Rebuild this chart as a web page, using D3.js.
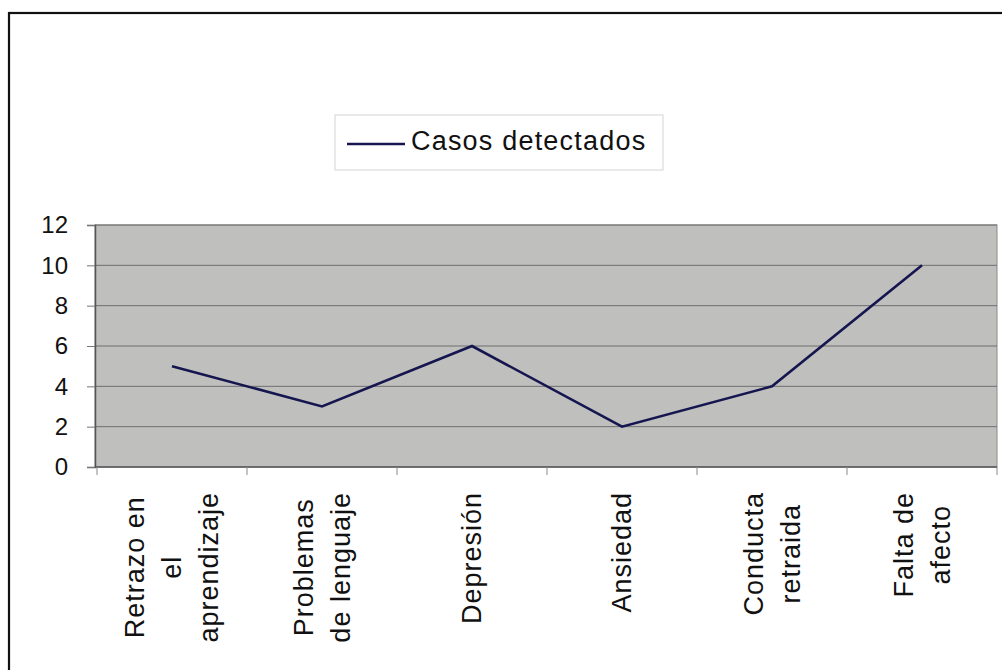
<!DOCTYPE html>
<html>
<head>
<meta charset="utf-8">
<script src="https://cdn.jsdelivr.net/npm/d3@7"></script>
<style>
  html, body { margin: 0; padding: 0; background: #fff; }
  svg { display: block; }
  text { font-family: "Liberation Sans", Arial, sans-serif; fill: #111; }
</style>
</head>
<body>
<svg id="chart" width="1002" height="670"></svg>
<script>
const categories = [
  ["Retrazo en", "el", "aprendizaje"],
  ["Problemas", "de lenguaje"],
  ["Depresión"],
  ["Ansiedad"],
  ["Conducta", "retraida"],
  ["Falta de", "afecto"]
];
const seriesName = "Casos detectados";
const values = [5, 3, 6, 2, 4, 10];
const yTicks = [0, 2, 4, 6, 8, 10, 12];

const svg = d3.select("#chart");
const plot = { left: 95, right: 997, top: 225, bottom: 467 };

// outer frame
svg.append("rect")
  .attr("x", 9).attr("y", 13)
  .attr("width", 1100).attr("height", 800)
  .attr("fill", "none").attr("stroke", "#111").attr("stroke-width", 2.2);

const x = d3.scaleBand()
  .domain(d3.range(categories.length))
  .range([plot.left + 2, plot.right])
  .paddingInner(0).paddingOuter(0);
const y = d3.scaleLinear().domain([0, 12]).range([plot.bottom, plot.top]);

// plot area
svg.append("rect")
  .attr("x", plot.left).attr("y", plot.top)
  .attr("width", plot.right - plot.left).attr("height", plot.bottom - plot.top)
  .attr("fill", "#bfbfbd").attr("stroke", "#8a8a8a").attr("stroke-width", 1);

// gridlines
svg.append("g").selectAll("line")
  .data(yTicks.filter(d => d > 0))
  .join("line")
  .attr("x1", plot.left).attr("x2", plot.right)
  .attr("y1", d => y(d)).attr("y2", d => y(d))
  .attr("stroke", "#6f6f6f").attr("stroke-width", 1);

// y axis
const yAxis = d3.axisLeft(y).tickValues(yTicks).tickSize(8).tickPadding(19);
const gy = svg.append("g").attr("transform", `translate(${plot.left},0)`).call(yAxis);
gy.select(".domain").attr("stroke", "#555").attr("stroke-width", 1.5);
gy.selectAll(".tick line").attr("stroke", "#777");
gy.selectAll("text").style("font-size", "24px").attr("fill", "#111")
  .style("font-family", '"Liberation Sans", Arial, sans-serif');

// x axis (ticks at category boundaries)
const gx = svg.append("g").attr("transform", `translate(0,${plot.bottom})`);
gx.append("line").attr("x1", plot.left).attr("x2", plot.right)
  .attr("y1", 0).attr("y2", 0).attr("stroke", "#555").attr("stroke-width", 1.5);
const bounds = d3.range(categories.length + 1).map(i =>
  i < categories.length ? x(i) : x(categories.length - 1) + x.bandwidth());
gx.selectAll("line.tk").data(bounds).join("line").attr("class", "tk")
  .attr("x1", d => d).attr("x2", d => d).attr("y1", 0).attr("y2", 8)
  .attr("stroke", "#888").attr("stroke-width", 1);

// category labels (rotated, block top-aligned to axis, lines centered)
const lineH = 37;
const labelTop = 492;
categories.forEach((lines, i) => {
  const cx = x(i) + x.bandwidth() / 2;
  const g = svg.append("g");
  const texts = g.selectAll("text").data(lines).join("text")
    .style("font-size", "27px").style("letter-spacing", "1px")
    .attr("text-anchor", "middle")
    .attr("dominant-baseline", "central")
    .text(d => d);
  let maxW = 0;
  texts.each(function () { maxW = Math.max(maxW, this.getComputedTextLength()); });
  const n = lines.length;
  texts.attr("x", -maxW / 2)
    .attr("y", (d, j) => (j - (n - 1) / 2) * lineH);
  g.attr("transform", `translate(${cx},${labelTop}) rotate(-90)`);
});

// line
const line = d3.line()
  .x((d, i) => x(i) + x.bandwidth() / 2)
  .y(d => y(d));
svg.append("path").datum(values)
  .attr("d", line)
  .attr("fill", "none").attr("stroke", "#15164f").attr("stroke-width", 2.6)
  .attr("stroke-linejoin", "miter");

// legend
const lg = svg.append("g");
lg.append("rect").attr("x", 335).attr("y", 115).attr("width", 328).attr("height", 55)
  .attr("fill", "#fff").attr("stroke", "#d4d4d4").attr("stroke-width", 1);
lg.append("line").attr("x1", 347).attr("x2", 405).attr("y1", 144).attr("y2", 144)
  .attr("stroke", "#15164f").attr("stroke-width", 2.6);
lg.append("text").attr("x", 411).attr("y", 150)
  .style("font-size", "27px").style("letter-spacing", "1.2px")
  .text(seriesName);
</script>
</body>
</html>
